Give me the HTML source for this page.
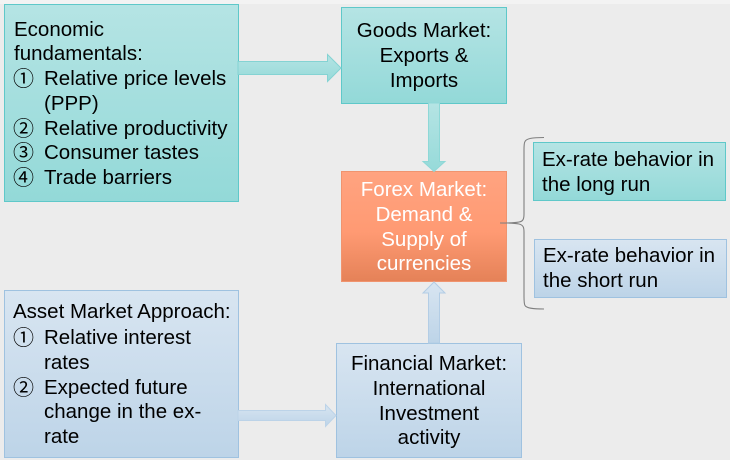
<!DOCTYPE html>
<html><head><meta charset="utf-8">
<style>
html,body{margin:0;padding:0}
#p{position:relative;width:730px;height:460px;overflow:hidden;background:#ececec;font-family:"Liberation Sans",Arial,sans-serif;font-size:20.5px;color:#000}
.top{position:absolute;left:0;top:0;width:730px;height:4px;background:#f3f3f3}
.b{position:absolute;box-sizing:border-box}
.g{background:linear-gradient(#b5e4e4,#93d9d8);border:1px solid #5fc8c9}
.u{background:linear-gradient(#d8e5f1,#bdd4e8);border:1px solid #9fc2e0}
.o{background:linear-gradient(#ffa380 0%,#ff9a73 55%,#e58258 100%);border:1px solid #f0946f}
.t{position:absolute;white-space:nowrap;line-height:24px;margin-top:1px}
.n{font-family:"Noto Sans CJK SC","Liberation Sans",sans-serif;font-size:21px;font-weight:400}
.c{transform:translateX(-50%)}
.w{color:#fff}
svg{position:absolute;left:0;top:0}
</style></head><body><div id="p">
<div class="top"></div>
<div class="b g" style="left:4px;top:4px;width:235px;height:198px"></div>
<div class="b g" style="left:341px;top:7px;width:166px;height:97px"></div>
<div class="b o" style="left:341px;top:171px;width:166px;height:111px"></div>
<div class="b g" style="left:533px;top:142px;width:193px;height:59px"></div>
<div class="b u" style="left:534px;top:239px;width:193px;height:59px"></div>
<div class="b u" style="left:4px;top:290px;width:235px;height:168px"></div>
<div class="b u" style="left:336px;top:343px;width:186px;height:115px"></div>
<svg width="730" height="460" viewBox="0 0 730 460">
<defs>
<linearGradient id="a1" x1="0" y1="0" x2="0" y2="1"><stop offset="0" stop-color="#b5e4e4"/><stop offset="1" stop-color="#96dad9"/></linearGradient>
<linearGradient id="a2" x1="0" y1="0" x2="0" y2="1"><stop offset="0" stop-color="#d8e5f1"/><stop offset="1" stop-color="#bdd4e8"/></linearGradient>
</defs>
<path d="M238 61.500H327.500V54.500L341 68L327.500 81.500V74.500H238Z" fill="url(#a1)" stroke="#84d3d3" stroke-width="1"/>
<path d="M428.500 103H439.500V161.500H445L434 171.500L423 161.500H428.500Z" fill="url(#a1)" stroke="#8ed8d7" stroke-width="1"/>
<path d="M238 410.500H325.500V404.500L336 415.500L325.500 426.500V420.500H238Z" fill="url(#a2)" stroke="#bcd3e8" stroke-width="1"/>
<path d="M428.500 343V293H423L434 282L445 293H439.500V343Z" fill="url(#a2)" stroke="#b3cde5" stroke-width="1"/>
<path d="M544 137.500C532 137.500 526.500 138.500 525 141.500C524 143 524 146 524 150V214C524 219 523 221.500 519 222C514 223 507 223 500 223C507 223 514 223 519 224C523 225 524 227 524 232V296C524 301 524 304 525 305.500C526.500 308 532 309 544 309" fill="none" stroke="#7f7f7f" stroke-width="1.100"/>
</svg>
<div class="t" style="left:14px;top:17px">Economic</div>
<div class="t" style="left:14px;top:41px">fundamentals:</div>
<div class="t n" style="left:13px;top:65px">①</div><div class="t" style="left:44px;top:66px">Relative price levels</div>
<div class="t" style="left:44px;top:91px">(PPP)</div>
<div class="t n" style="left:13px;top:115px">②</div><div class="t" style="left:44px;top:116px">Relative productivity</div>
<div class="t n" style="left:13px;top:139px">③</div><div class="t" style="left:44px;top:140px">Consumer tastes</div>
<div class="t n" style="left:13px;top:164px">④</div><div class="t" style="left:44px;top:165px">Trade barriers</div>

<div class="t c" style="left:424px;top:18px">Goods Market:</div>
<div class="t c" style="left:424px;top:43px">Exports &amp;</div>
<div class="t c" style="left:424px;top:68px">Imports</div>

<div class="t c w" style="left:424px;top:177px">Forex Market:</div>
<div class="t c w" style="left:424px;top:202px">Demand &amp;</div>
<div class="t c w" style="left:424px;top:227px">Supply of</div>
<div class="t c w" style="left:424px;top:251px">currencies</div>

<div class="t" style="left:542px;top:147px">Ex-rate behavior in</div>
<div class="t" style="left:542px;top:172px">the long run</div>
<div class="t" style="left:543px;top:243px">Ex-rate behavior in</div>
<div class="t" style="left:543px;top:268px">the short run</div>

<div class="t" style="left:13px;top:299px">Asset Market Approach:</div>
<div class="t n" style="left:13px;top:324px">①</div><div class="t" style="left:44px;top:325px">Relative interest</div>
<div class="t" style="left:44px;top:350px">rates</div>
<div class="t n" style="left:13px;top:374px">②</div><div class="t" style="left:44px;top:375px">Expected future</div>
<div class="t" style="left:44px;top:399px">change in the ex-</div>
<div class="t" style="left:44px;top:424px">rate</div>

<div class="t c" style="left:429px;top:351px">Financial Market:</div>
<div class="t c" style="left:429px;top:376px">International</div>
<div class="t c" style="left:429px;top:401px">Investment</div>
<div class="t c" style="left:429px;top:425px">activity</div>
</div></body></html>
